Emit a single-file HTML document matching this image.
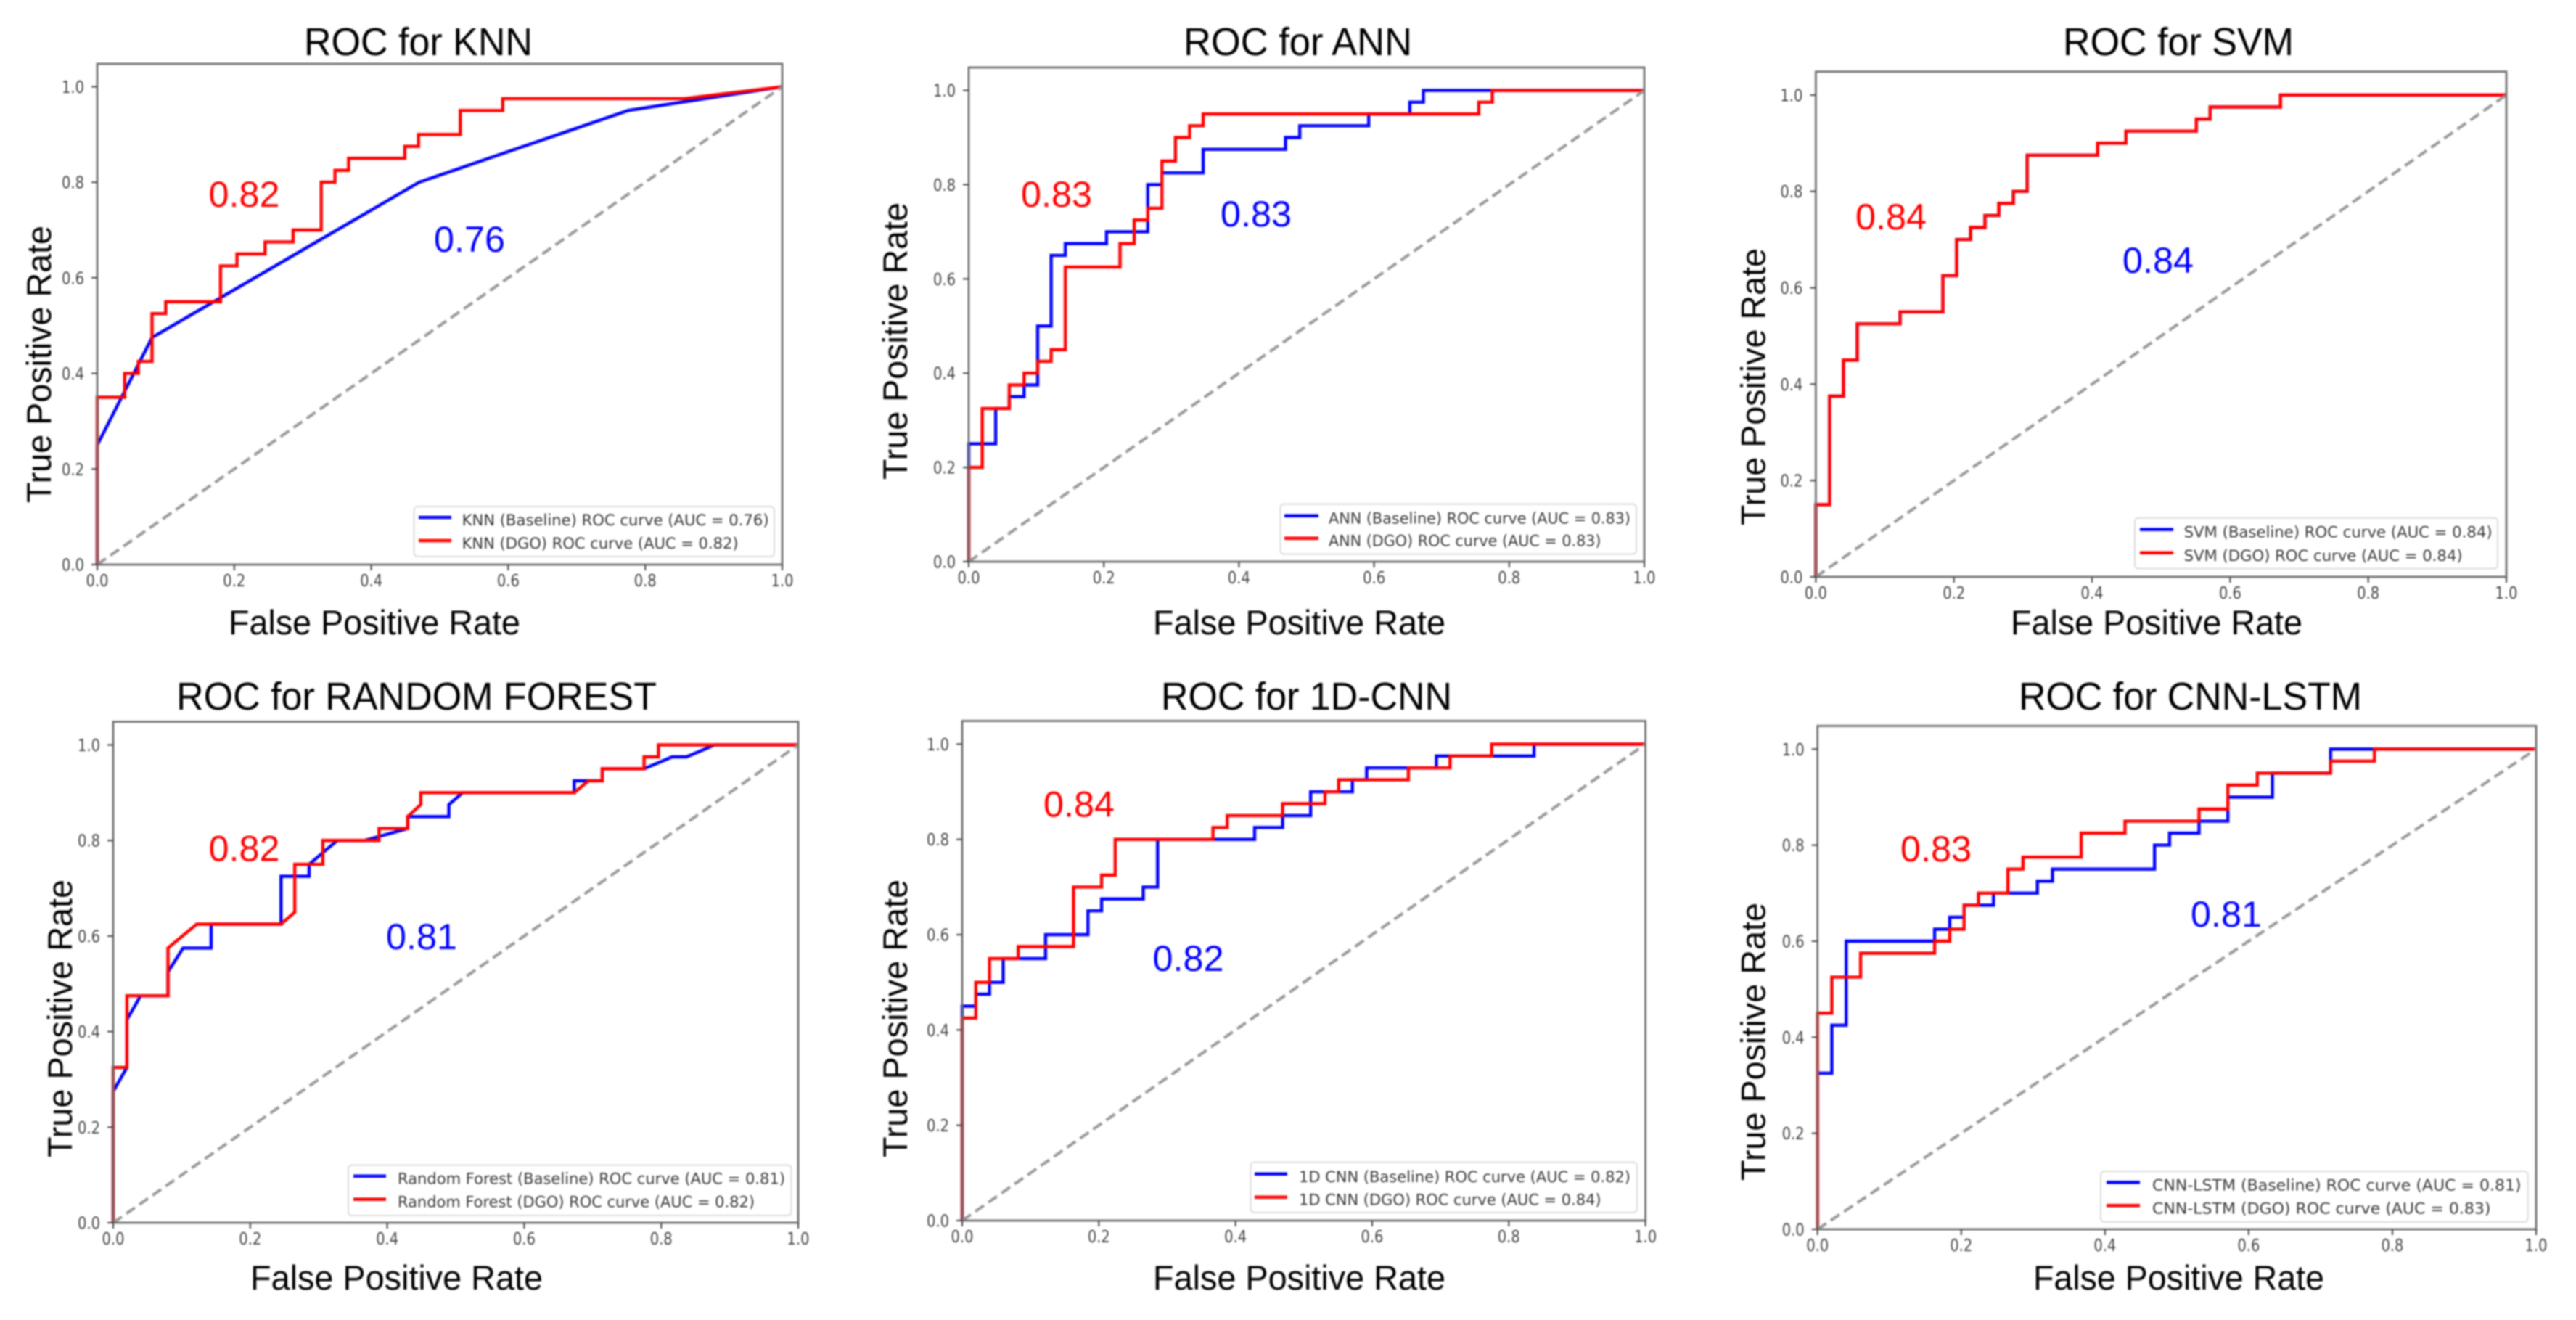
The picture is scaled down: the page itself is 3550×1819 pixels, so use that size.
<!DOCTYPE html>
<html lang="en">
<head>
<meta charset="utf-8">
<title>ROC curves for six classifiers</title>
<style>
html,body{margin:0;padding:0;background:#fff;}
#figure{display:block;width:3550px;height:1819px;filter:blur(1px);}
text{font-family:"Liberation Sans",sans-serif;}
.title{font-size:54px;fill:#000;}
.axis-label{font-size:47px;fill:#000;}
.anno{font-size:50px;}
.red{fill:#ff0000;}
.blue{fill:#0000ff;}
.legend-box{fill:#fff;fill-opacity:.8;stroke:#dcdcdc;stroke-width:2;}
.legend-text{font-family:"DejaVu Sans",sans-serif;font-size:21px;fill:#3a3a3a;}
.legend-line{stroke-width:4.5;fill:none;}
.tick-label{font-family:"DejaVu Sans",sans-serif;font-size:23px;fill:#444;}
</style>
</head>
<body>
<svg id="figure" xmlns="http://www.w3.org/2000/svg" viewBox="0 0 3550 1819" width="3550" height="1819">
  <rect x="0" y="0" width="3550" height="1819" fill="#fff"/>

  <g>
    <g id="marks-knn"></g>
    <text class="title" x="419" y="76" textLength="315" lengthAdjust="spacingAndGlyphs">ROC for KNN</text>
    <text class="axis-label" x="315" y="874" textLength="402" lengthAdjust="spacingAndGlyphs">False Positive Rate</text>
    <text class="axis-label" transform="translate(70 693) rotate(-90)" textLength="382" lengthAdjust="spacingAndGlyphs">True Positive Rate</text>
    <text class="anno red" x="287.5" y="285" textLength="98" lengthAdjust="spacingAndGlyphs">0.82</text>
    <text class="anno blue" x="598" y="347" textLength="98" lengthAdjust="spacingAndGlyphs">0.76</text>
    <g>
      <rect class="legend-box" x="570.6" y="698" width="496.4" height="69" rx="5"/>
      <line class="legend-line" x1="577" x2="622" y1="713" y2="713" stroke="#0000ff"/>
      <text class="legend-text" x="636.6" y="724" textLength="423" lengthAdjust="spacingAndGlyphs">KNN (Baseline) ROC curve (AUC = 0.76)</text>
      <line class="legend-line" x1="577" x2="622" y1="745" y2="745" stroke="#ff0000"/>
      <text class="legend-text" x="636.6" y="756" textLength="381" lengthAdjust="spacingAndGlyphs">KNN (DGO) ROC curve (AUC = 0.82)</text>
    </g>
  </g>

  <g>
    <g id="marks-ann"></g>
    <text class="title" x="1631" y="76" textLength="315" lengthAdjust="spacingAndGlyphs">ROC for ANN</text>
    <text class="axis-label" x="1589" y="874" textLength="403" lengthAdjust="spacingAndGlyphs">False Positive Rate</text>
    <text class="axis-label" transform="translate(1250 661) rotate(-90)" textLength="382" lengthAdjust="spacingAndGlyphs">True Positive Rate</text>
    <text class="anno red" x="1407" y="285" textLength="98" lengthAdjust="spacingAndGlyphs">0.83</text>
    <text class="anno blue" x="1682" y="312" textLength="98" lengthAdjust="spacingAndGlyphs">0.83</text>
    <g>
      <rect class="legend-box" x="1764.5" y="694.6" width="490.5" height="69" rx="5"/>
      <line class="legend-line" x1="1770" x2="1817" y1="710.7" y2="710.7" stroke="#0000ff"/>
      <text class="legend-text" x="1831" y="721.7" textLength="416" lengthAdjust="spacingAndGlyphs">ANN (Baseline) ROC curve (AUC = 0.83)</text>
      <line class="legend-line" x1="1770" x2="1817" y1="741.7" y2="741.7" stroke="#ff0000"/>
      <text class="legend-text" x="1831" y="752.7" textLength="375.5" lengthAdjust="spacingAndGlyphs">ANN (DGO) ROC curve (AUC = 0.83)</text>
    </g>
  </g>

  <g>
    <g id="marks-svm"></g>
    <text class="title" x="2843" y="76" textLength="318" lengthAdjust="spacingAndGlyphs">ROC for SVM</text>
    <text class="axis-label" x="2771" y="874" textLength="402" lengthAdjust="spacingAndGlyphs">False Positive Rate</text>
    <text class="axis-label" transform="translate(2432.5 724) rotate(-90)" textLength="382" lengthAdjust="spacingAndGlyphs">True Positive Rate</text>
    <text class="anno red" x="2557" y="316" textLength="98" lengthAdjust="spacingAndGlyphs">0.84</text>
    <text class="anno blue" x="2925" y="376" textLength="98" lengthAdjust="spacingAndGlyphs">0.84</text>
    <g>
      <rect class="legend-box" x="2942" y="713.6" width="500" height="70" rx="5"/>
      <line class="legend-line" x1="2949" x2="2995" y1="729.6" y2="729.6" stroke="#0000ff"/>
      <text class="legend-text" x="3009.6" y="740.6" textLength="425" lengthAdjust="spacingAndGlyphs">SVM (Baseline) ROC curve (AUC = 0.84)</text>
      <line class="legend-line" x1="2949" x2="2995" y1="761.8" y2="761.8" stroke="#ff0000"/>
      <text class="legend-text" x="3009.6" y="772.8" textLength="384" lengthAdjust="spacingAndGlyphs">SVM (DGO) ROC curve (AUC = 0.84)</text>
    </g>
  </g>

  <g>
    <g id="marks-rf"></g>
    <text class="title" x="243" y="978" textLength="662" lengthAdjust="spacingAndGlyphs">ROC for RANDOM FOREST</text>
    <text class="axis-label" x="345" y="1777" textLength="403" lengthAdjust="spacingAndGlyphs">False Positive Rate</text>
    <text class="axis-label" transform="translate(99 1595) rotate(-90)" textLength="383" lengthAdjust="spacingAndGlyphs">True Positive Rate</text>
    <text class="anno red" x="287.5" y="1186.5" textLength="98" lengthAdjust="spacingAndGlyphs">0.82</text>
    <text class="anno blue" x="532" y="1308" textLength="98" lengthAdjust="spacingAndGlyphs">0.81</text>
    <g>
      <rect class="legend-box" x="480" y="1605.6" width="610.6" height="69.4" rx="5"/>
      <line class="legend-line" x1="487" x2="532" y1="1620.7" y2="1620.7" stroke="#0000ff"/>
      <text class="legend-text" x="548" y="1631.7" textLength="534" lengthAdjust="spacingAndGlyphs">Random Forest (Baseline) ROC curve (AUC = 0.81)</text>
      <line class="legend-line" x1="487" x2="532" y1="1652.6" y2="1652.6" stroke="#ff0000"/>
      <text class="legend-text" x="548" y="1663.6" textLength="492" lengthAdjust="spacingAndGlyphs">Random Forest (DGO) ROC curve (AUC = 0.82)</text>
    </g>
  </g>

  <g>
    <g id="marks-cnn"></g>
    <text class="title" x="1600" y="978" textLength="401" lengthAdjust="spacingAndGlyphs">ROC for 1D-CNN</text>
    <text class="axis-label" x="1589" y="1777" textLength="403" lengthAdjust="spacingAndGlyphs">False Positive Rate</text>
    <text class="axis-label" transform="translate(1250 1595) rotate(-90)" textLength="383" lengthAdjust="spacingAndGlyphs">True Positive Rate</text>
    <text class="anno red" x="1438" y="1125.6" textLength="98" lengthAdjust="spacingAndGlyphs">0.84</text>
    <text class="anno blue" x="1588.5" y="1338" textLength="98" lengthAdjust="spacingAndGlyphs">0.82</text>
    <g>
      <rect class="legend-box" x="1723.5" y="1601.6" width="532.5" height="69.4" rx="5"/>
      <line class="legend-line" x1="1729" x2="1774" y1="1617.8" y2="1617.8" stroke="#0000ff"/>
      <text class="legend-text" x="1790" y="1628.8" textLength="457" lengthAdjust="spacingAndGlyphs">1D CNN (Baseline) ROC curve (AUC = 0.82)</text>
      <line class="legend-line" x1="1729" x2="1774" y1="1649.7" y2="1649.7" stroke="#ff0000"/>
      <text class="legend-text" x="1790" y="1660.7" textLength="416.6" lengthAdjust="spacingAndGlyphs">1D CNN (DGO) ROC curve (AUC = 0.84)</text>
    </g>
  </g>

  <g>
    <g id="marks-lstm"></g>
    <text class="title" x="2782" y="978" textLength="473" lengthAdjust="spacingAndGlyphs">ROC for CNN-LSTM</text>
    <text class="axis-label" x="2802" y="1777" textLength="401" lengthAdjust="spacingAndGlyphs">False Positive Rate</text>
    <text class="axis-label" transform="translate(2432.5 1627) rotate(-90)" textLength="383" lengthAdjust="spacingAndGlyphs">True Positive Rate</text>
    <text class="anno red" x="2619" y="1187" textLength="98" lengthAdjust="spacingAndGlyphs">0.83</text>
    <text class="anno blue" x="3019" y="1277" textLength="98" lengthAdjust="spacingAndGlyphs">0.81</text>
    <g>
      <rect class="legend-box" x="2895" y="1614" width="588.6" height="70" rx="5"/>
      <line class="legend-line" x1="2903" x2="2949" y1="1629.4" y2="1629.4" stroke="#0000ff"/>
      <text class="legend-text" x="2966" y="1640.4" textLength="508.6" lengthAdjust="spacingAndGlyphs">CNN-LSTM (Baseline) ROC curve (AUC = 0.81)</text>
      <line class="legend-line" x1="2903" x2="2949" y1="1661.3" y2="1661.3" stroke="#ff0000"/>
      <text class="legend-text" x="2966" y="1672.3" textLength="466.5" lengthAdjust="spacingAndGlyphs">CNN-LSTM (DGO) ROC curve (AUC = 0.83)</text>
    </g>
  </g>
</svg>

<script>
// ---- shared axis values ----
const xTickValues = [0, 0.2, 0.4, 0.6, 0.8, 1];
const yTickValues = [0, 0.2, 0.4, 0.6, 0.8, 1];
const xTickLabels = ['0.0', '0.2', '0.4', '0.6', '0.8', '1.0'];
const yTickLabels = ['0.0', '0.2', '0.4', '0.6', '0.8', '1.0'];
const diagonalFpr = [0, 1];
const diagonalTpr = [0, 1];

// ---- KNN ----
const knnBaselineFpr = [0, 0, 0.08, 0.47, 0.775, 1];
const knnBaselineTpr = [0, 0.25, 0.475, 0.80, 0.95, 1];
const knnDgoFpr = [0, 0, 0.04, 0.04, 0.06, 0.06, 0.08, 0.08, 0.10, 0.10, 0.18, 0.18, 0.204, 0.204, 0.245, 0.245, 0.286, 0.286, 0.327, 0.327, 0.347, 0.347, 0.367, 0.367, 0.449, 0.449, 0.469, 0.469, 0.53, 0.53, 0.592, 0.592, 0.857, 1];
const knnDgoTpr = [0, 0.35, 0.35, 0.40, 0.40, 0.425, 0.425, 0.525, 0.525, 0.55, 0.55, 0.625, 0.625, 0.65, 0.65, 0.675, 0.675, 0.70, 0.70, 0.80, 0.80, 0.825, 0.825, 0.85, 0.85, 0.875, 0.875, 0.90, 0.90, 0.95, 0.95, 0.975, 0.975, 1];

// ---- ANN ----
const annBaselineFpr = [0, 0, 0.04, 0.04, 0.06, 0.06, 0.082, 0.082, 0.102, 0.102, 0.122, 0.122, 0.143, 0.143, 0.204, 0.204, 0.265, 0.265, 0.286, 0.286, 0.347, 0.347, 0.469, 0.469, 0.49, 0.49, 0.592, 0.592, 0.653, 0.653, 0.673, 0.673, 1];
const annBaselineTpr = [0, 0.25, 0.25, 0.325, 0.325, 0.35, 0.35, 0.375, 0.375, 0.50, 0.50, 0.65, 0.65, 0.675, 0.675, 0.70, 0.70, 0.80, 0.80, 0.825, 0.825, 0.875, 0.875, 0.90, 0.90, 0.925, 0.925, 0.95, 0.95, 0.975, 0.975, 1, 1];
const annDgoFpr = [0, 0, 0.02, 0.02, 0.06, 0.06, 0.082, 0.082, 0.102, 0.102, 0.122, 0.122, 0.143, 0.143, 0.224, 0.224, 0.245, 0.245, 0.265, 0.265, 0.286, 0.286, 0.306, 0.306, 0.327, 0.327, 0.347, 0.347, 0.755, 0.755, 0.775, 0.775, 1];
const annDgoTpr = [0, 0.20, 0.20, 0.325, 0.325, 0.375, 0.375, 0.40, 0.40, 0.425, 0.425, 0.45, 0.45, 0.625, 0.625, 0.675, 0.675, 0.725, 0.725, 0.75, 0.75, 0.85, 0.85, 0.90, 0.90, 0.925, 0.925, 0.95, 0.95, 0.975, 0.975, 1, 1];

// ---- SVM (baseline and DGO coincide) ----
const svmBaselineFpr = [0, 0, 0.02, 0.02, 0.04, 0.04, 0.06, 0.06, 0.122, 0.122, 0.184, 0.184, 0.204, 0.204, 0.224, 0.224, 0.245, 0.245, 0.265, 0.265, 0.286, 0.286, 0.306, 0.306, 0.408, 0.408, 0.449, 0.449, 0.551, 0.551, 0.571, 0.571, 0.673, 0.673, 1];
const svmBaselineTpr = [0, 0.15, 0.15, 0.375, 0.375, 0.45, 0.45, 0.525, 0.525, 0.55, 0.55, 0.625, 0.625, 0.70, 0.70, 0.725, 0.725, 0.75, 0.75, 0.775, 0.775, 0.80, 0.80, 0.875, 0.875, 0.90, 0.90, 0.925, 0.925, 0.95, 0.95, 0.975, 0.975, 1, 1];
const svmDgoFpr = [0, 0, 0.02, 0.02, 0.04, 0.04, 0.06, 0.06, 0.122, 0.122, 0.184, 0.184, 0.204, 0.204, 0.224, 0.224, 0.245, 0.245, 0.265, 0.265, 0.286, 0.286, 0.306, 0.306, 0.408, 0.408, 0.449, 0.449, 0.551, 0.551, 0.571, 0.571, 0.673, 0.673, 1];
const svmDgoTpr = [0, 0.15, 0.15, 0.375, 0.375, 0.45, 0.45, 0.525, 0.525, 0.55, 0.55, 0.625, 0.625, 0.70, 0.70, 0.725, 0.725, 0.75, 0.75, 0.775, 0.775, 0.80, 0.80, 0.875, 0.875, 0.90, 0.90, 0.925, 0.925, 0.95, 0.95, 0.975, 0.975, 1, 1];

// ---- Random Forest ----
const rfBaselineFpr = [0, 0, 0.02, 0.02, 0.04, 0.08, 0.08, 0.102, 0.143, 0.143, 0.245, 0.245, 0.286, 0.286, 0.327, 0.367, 0.43, 0.43, 0.49, 0.49, 0.51, 0.673, 0.673, 0.714, 0.714, 0.775, 0.816, 0.837, 0.878, 1];
const rfBaselineTpr = [0, 0.275, 0.325, 0.425, 0.475, 0.475, 0.525, 0.575, 0.575, 0.625, 0.625, 0.725, 0.725, 0.75, 0.80, 0.80, 0.825, 0.85, 0.85, 0.875, 0.90, 0.90, 0.925, 0.925, 0.95, 0.95, 0.975, 0.975, 1, 1];
const rfDgoFpr = [0, 0, 0.02, 0.02, 0.08, 0.08, 0.122, 0.245, 0.265, 0.265, 0.306, 0.306, 0.388, 0.388, 0.43, 0.43, 0.449, 0.449, 0.673, 0.694, 0.714, 0.714, 0.775, 0.775, 0.796, 0.796, 1];
const rfDgoTpr = [0, 0.325, 0.325, 0.475, 0.475, 0.575, 0.625, 0.625, 0.65, 0.75, 0.75, 0.80, 0.80, 0.825, 0.825, 0.85, 0.875, 0.90, 0.90, 0.925, 0.925, 0.95, 0.95, 0.975, 0.975, 1, 1];

// ---- 1D-CNN ----
const cnnBaselineFpr = [0, 0, 0.02, 0.02, 0.04, 0.04, 0.06, 0.06, 0.122, 0.122, 0.184, 0.184, 0.204, 0.204, 0.265, 0.265, 0.286, 0.286, 0.428, 0.428, 0.469, 0.469, 0.51, 0.51, 0.571, 0.571, 0.592, 0.592, 0.694, 0.694, 0.837, 0.837, 1];
const cnnBaselineTpr = [0, 0.45, 0.45, 0.475, 0.475, 0.50, 0.50, 0.55, 0.55, 0.60, 0.60, 0.65, 0.65, 0.675, 0.675, 0.70, 0.70, 0.80, 0.80, 0.825, 0.825, 0.85, 0.85, 0.90, 0.90, 0.925, 0.925, 0.95, 0.95, 0.975, 0.975, 1, 1];
const cnnDgoFpr = [0, 0, 0.02, 0.02, 0.04, 0.04, 0.082, 0.082, 0.163, 0.163, 0.204, 0.204, 0.224, 0.224, 0.367, 0.367, 0.388, 0.388, 0.469, 0.469, 0.531, 0.531, 0.551, 0.551, 0.653, 0.653, 0.714, 0.714, 0.775, 0.775, 1];
const cnnDgoTpr = [0, 0.425, 0.425, 0.50, 0.50, 0.55, 0.55, 0.575, 0.575, 0.70, 0.70, 0.725, 0.725, 0.80, 0.80, 0.825, 0.825, 0.85, 0.85, 0.875, 0.875, 0.90, 0.90, 0.925, 0.925, 0.95, 0.95, 0.975, 0.975, 1, 1];

// ---- CNN-LSTM ----
const lstmBaselineFpr = [0, 0, 0.02, 0.02, 0.04, 0.04, 0.163, 0.163, 0.184, 0.184, 0.204, 0.204, 0.245, 0.245, 0.306, 0.306, 0.327, 0.327, 0.469, 0.469, 0.49, 0.49, 0.531, 0.531, 0.571, 0.571, 0.633, 0.633, 0.714, 0.714, 1];
const lstmBaselineTpr = [0, 0.325, 0.325, 0.425, 0.425, 0.60, 0.60, 0.625, 0.625, 0.65, 0.65, 0.675, 0.675, 0.70, 0.70, 0.725, 0.725, 0.75, 0.75, 0.80, 0.80, 0.825, 0.825, 0.85, 0.85, 0.90, 0.90, 0.95, 0.95, 1, 1];
const lstmDgoFpr = [0, 0, 0.02, 0.02, 0.06, 0.06, 0.163, 0.163, 0.184, 0.184, 0.204, 0.204, 0.224, 0.224, 0.265, 0.265, 0.286, 0.286, 0.367, 0.367, 0.428, 0.428, 0.531, 0.531, 0.571, 0.571, 0.612, 0.612, 0.714, 0.714, 0.775, 0.775, 1];
const lstmDgoTpr = [0, 0.45, 0.45, 0.525, 0.525, 0.575, 0.575, 0.60, 0.60, 0.625, 0.625, 0.675, 0.675, 0.70, 0.70, 0.75, 0.75, 0.775, 0.775, 0.825, 0.825, 0.85, 0.85, 0.875, 0.875, 0.925, 0.925, 0.95, 0.95, 0.975, 0.975, 1, 1];

const SVG_NS = 'http://www.w3.org/2000/svg';

function makeSvg(tag, parent) {
  const el = document.createElementNS(SVG_NS, tag);
  parent.appendChild(el);
  return el;
}

function drawPanel(groupId, prefix, box, baselineX, baselineY, dgoX, dgoY) {
  const group = document.getElementById(groupId);
  const xScale = function (v) { return box.left + v * (box.right - box.left); };
  const yScale = function (v) { return box.bottom - v * (box.bottom - box.yOne); };
  const linePoints = function (xs, ys) {
    return xs.map(function (x, i) { return xScale(x).toFixed(1) + ',' + yScale(ys[i]).toFixed(1); }).join(' ');
  };

  const baseline = makeSvg('polyline', group);
  baseline.setAttribute('points', linePoints(baselineX, baselineY));
  baseline.setAttribute('fill', 'none');
  baseline.setAttribute('stroke', '#0000ff');
  baseline.setAttribute('stroke-width', '4.4');
  baseline.setAttribute('stroke-linejoin', 'miter');
  
  

  const dgo = makeSvg('polyline', group);
  dgo.setAttribute('points', linePoints(dgoX, dgoY));
  dgo.setAttribute('fill', 'none');
  dgo.setAttribute('stroke', '#ff0000');
  dgo.setAttribute('stroke-width', '4.4');
  dgo.setAttribute('stroke-linejoin', 'miter');
  
  

  const diagonal = makeSvg('polyline', group);
  diagonal.setAttribute('points', linePoints(diagonalFpr, diagonalTpr));
  diagonal.setAttribute('fill', 'none');
  diagonal.setAttribute('stroke', '#999999');
  diagonal.setAttribute('stroke-width', '4');
  diagonal.setAttribute('stroke-dasharray', '14.5 7.5');
  
  

  const frame = makeSvg('rect', group);
  frame.setAttribute('x', box.left);
  frame.setAttribute('y', box.top);
  frame.setAttribute('width', box.right - box.left);
  frame.setAttribute('height', box.bottom - box.top);
  frame.setAttribute('fill', 'none');
  frame.setAttribute('stroke', '#707070');
  frame.setAttribute('stroke-width', '2.8');
  
  

  xTickValues.forEach(function (v, i) {
    const tick = makeSvg('line', group);
    tick.setAttribute('x1', xScale(v));
    tick.setAttribute('x2', xScale(v));
    tick.setAttribute('y1', box.bottom);
    tick.setAttribute('y2', box.bottom + 8);
    tick.setAttribute('stroke', '#444');
    tick.setAttribute('stroke-width', '2');
    
    

    const label = makeSvg('text', group);
    label.textContent = xTickLabels[i];
    label.setAttribute('class', 'tick-label');
    label.setAttribute('x', xScale(v));
    label.setAttribute('y', box.bottom + 30);
    label.setAttribute('text-anchor', 'middle');
    label.setAttribute('textLength', '31');
    label.setAttribute('lengthAdjust', 'spacingAndGlyphs');
    
    
  });

  yTickValues.forEach(function (v, i) {
    const tick = makeSvg('line', group);
    tick.setAttribute('x1', box.left - 8);
    tick.setAttribute('x2', box.left);
    tick.setAttribute('y1', yScale(v));
    tick.setAttribute('y2', yScale(v));
    tick.setAttribute('stroke', '#444');
    tick.setAttribute('stroke-width', '2');
    
    

    const label = makeSvg('text', group);
    label.textContent = yTickLabels[i];
    label.setAttribute('class', 'tick-label');
    label.setAttribute('x', box.left - 18);
    label.setAttribute('y', yScale(v) + 8.5);
    label.setAttribute('text-anchor', 'end');
    label.setAttribute('textLength', '31');
    label.setAttribute('lengthAdjust', 'spacingAndGlyphs');
    
    
  });
}

drawPanel('marks-knn', 'knn', { left: 134, right: 1078, top: 88, yOne: 119.4, bottom: 778 }, knnBaselineFpr, knnBaselineTpr, knnDgoFpr, knnDgoTpr);
drawPanel('marks-ann', 'ann', { left: 1335, right: 2266, top: 93, yOne: 124.6, bottom: 774 }, annBaselineFpr, annBaselineTpr, annDgoFpr, annDgoTpr);
drawPanel('marks-svm', 'svm', { left: 2502.4, right: 3454, top: 98.7, yOne: 130.9, bottom: 795 }, svmBaselineFpr, svmBaselineTpr, svmDgoFpr, svmDgoTpr);
drawPanel('marks-rf', 'random-forest', { left: 156, right: 1100, top: 994.6, yOne: 1026.5, bottom: 1685 }, rfBaselineFpr, rfBaselineTpr, rfDgoFpr, rfDgoTpr);
drawPanel('marks-cnn', '1d-cnn', { left: 1326, right: 2267.6, top: 993.5, yOne: 1025.4, bottom: 1682 }, cnnBaselineFpr, cnnBaselineTpr, cnnDgoFpr, cnnDgoTpr);
drawPanel('marks-lstm', 'cnn-lstm', { left: 2504.7, right: 3495, top: 1000.4, yOne: 1032.3, bottom: 1694 }, lstmBaselineFpr, lstmBaselineTpr, lstmDgoFpr, lstmDgoTpr);
</script>
</body>
</html>
